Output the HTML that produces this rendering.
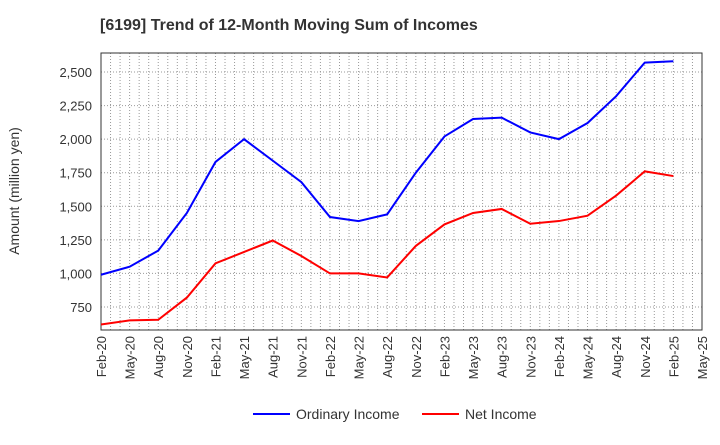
<!DOCTYPE html>
<html><head><meta charset="utf-8"><style>
body{margin:0;background:#fff;font-family:"Liberation Sans",sans-serif}
</style></head><body>
<svg id="c" width="720" height="440" font-family="Liberation Sans, sans-serif"></svg>
<script>
const categories=["Feb-20","May-20","Aug-20","Nov-20","Feb-21","May-21","Aug-21","Nov-21","Feb-22","May-22","Aug-22","Nov-22","Feb-23","May-23","Aug-23","Nov-23","Feb-24","May-24","Aug-24","Nov-24","Feb-25","May-25"];
const ordinaryIncome=[990,1050,1170,1450,1830,2000,1840,1680,1420,1390,1440,1750,2020,2150,2160,2050,2000,2120,2320,2570,2580];
const netIncome=[620,650,655,820,1075,1160,1245,1130,1000,1000,970,1205,1365,1450,1480,1370,1390,1430,1580,1760,1725];
const yTicks=[750,1000,1250,1500,1750,2000,2250,2500];
const svg=document.getElementById('c');const NS='http://www.w3.org/2000/svg';
function mk(t,a,p){const e=document.createElementNS(NS,t);for(const k in a)e.setAttribute(k,a[k]);(p||svg).appendChild(e);return e;}
const L=101,R=702,T=53,B=330;
const x=i=>L+i*(R-L)/(categories.length-1);
const y=v=>307-(v-750)*(307-72)/1750;
let t=mk('text',{x:100,y:30,'font-size':16,'font-weight':'bold',fill:'#333'});t.textContent='[6199]  Trend of 12-Month Moving Sum of Incomes';


for(let m=0;m<=(categories.length-1)*3;m++){const xx=L+m*(R-L)/((categories.length-1)*3);
 const g=mk('line',{x1:xx,x2:xx,y1:T,y2:B,stroke:'#999','stroke-dasharray':'1,2','stroke-width':1});
 
 }
yTicks.forEach(v=>{const g=mk('line',{x1:L,x2:R,y1:y(v),y2:y(v),stroke:'#999','stroke-dasharray':'1,2'});
 
 
 const tx=mk('text',{x:92,y:y(v)+5,'text-anchor':'end','font-size':13,fill:'#333'});tx.textContent=v.toLocaleString('en-US');
 
 });
const fr=mk('rect',{x:L,y:T,width:R-L,height:B-T,fill:'none',stroke:'#333'});


categories.forEach((c,i)=>{const tx=mk('text',{transform:`translate(${x(i)+5},${B+6}) rotate(-90)`,'text-anchor':'end','font-size':13,fill:'#333'});tx.textContent=c;
 
 });
const yt=mk('text',{transform:'translate(19,191) rotate(-90)','text-anchor':'middle','font-size':14,fill:'#333'});yt.textContent='Amount (million yen)';


function line(d,col,name){const p=mk('polyline',{points:d.map((v,i)=>x(i)+','+y(v)).join(' '),fill:'none',stroke:col,'stroke-width':2});
 
 }
line(ordinaryIncome,'#0000ff','ordinary-income-line');
line(netIncome,'#ff0000','net-income-line');
[['Ordinary Income','#0000ff',253],['Net Income','#ff0000',422]].forEach(([n,c,lx])=>{
 const g=mk('g',{});
 
 mk('line',{x1:lx,x2:lx+37,y1:414,y2:414,stroke:c,'stroke-width':2},g);
 const tx=mk('text',{x:lx+43,y:419,'font-size':14,fill:'#333'},g);tx.textContent=n;});
</script>
</body></html>
